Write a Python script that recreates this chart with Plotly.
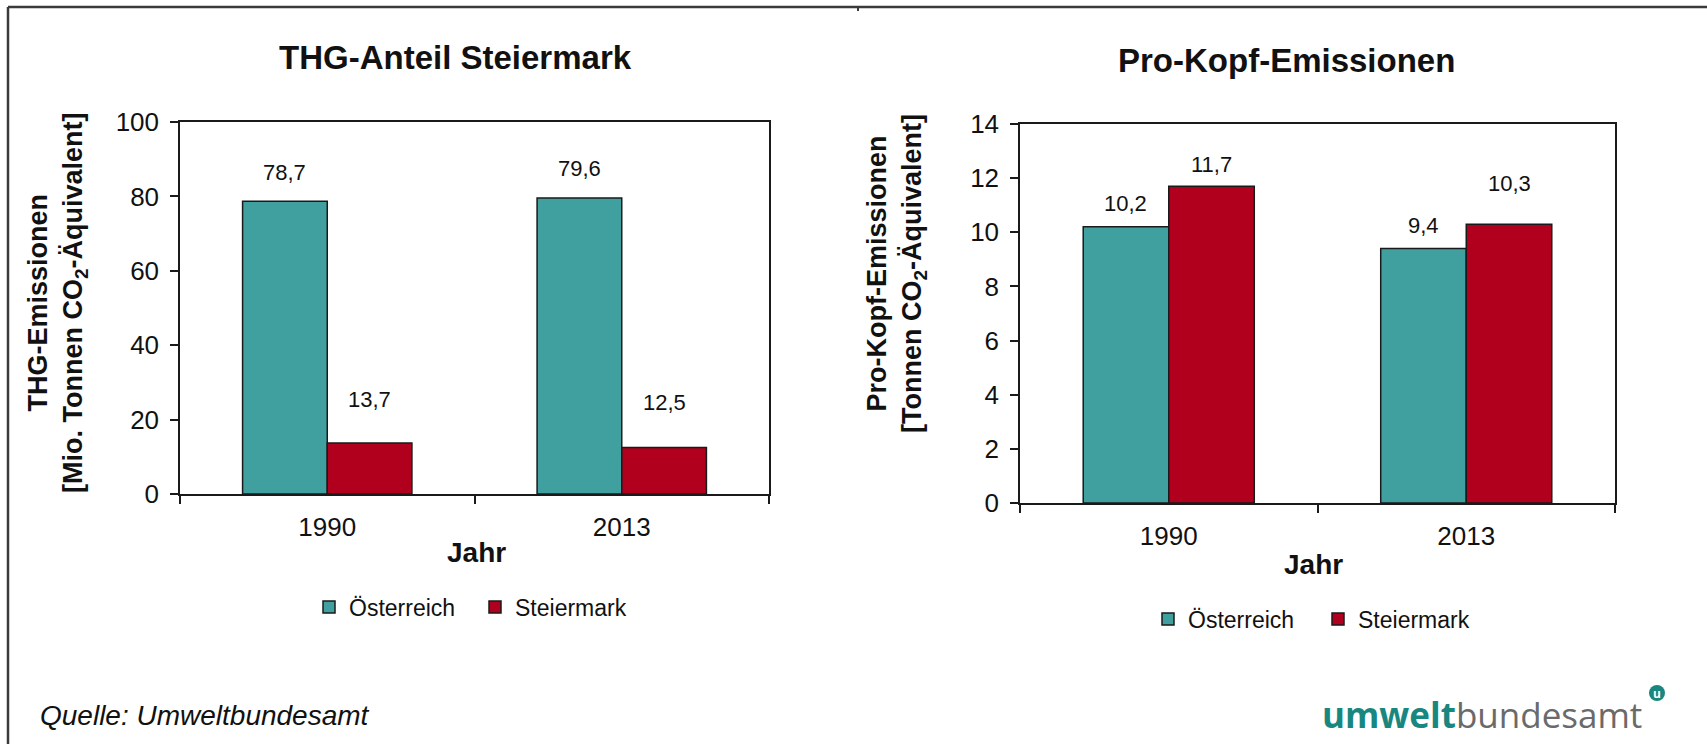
import plotly.graph_objects as go

# --- data ---------------------------------------------------------------
years = ["1990", "2013"]
thg_oesterreich = [78.7, 79.6]      # Mio. t CO2-Äquivalent
thg_steiermark = [13.7, 12.5]
kopf_oesterreich = [10.2, 9.4]      # t CO2-Äquivalent pro Kopf
kopf_steiermark = [11.7, 10.3]
series_names = ["Österreich", "Steiermark"]

# --- styling ------------------------------------------------------------
W, H = 1707, 744
TEAL = "#40A0A0"
RED = "#B0001E"
INK = "#111111"
FONT = "Liberation Sans, Arial, sans-serif"


def xp(px):
    return px / W


def yp(py):
    return 1 - py / H


def fmt(v):
    return f"{v:.1f}".replace(".", ",")


# plot areas in pixels: (left, right, top, bottom)
LEFT_BOX = (180, 769, 122, 494)
RIGHT_BOX = (1020, 1615, 124, 503)
BARGAP = 0.425

# vertical lift (px) of the value labels above their bars, per panel / series / year
LABEL_LIFT = [
    [[29, 29], [44, 45]],
    [[23, 23], [22, 41]],
]

positions = list(range(len(years)))
boundaries = [p - 0.5 for p in positions] + [positions[-1] + 0.5]
half_bar = (1 - BARGAP) / 4          # centre offset of each bar within its group

fig = go.Figure()

panels = [
    ("x", "y", "legend", thg_oesterreich, thg_steiermark),
    ("x2", "y2", "legend2", kopf_oesterreich, kopf_steiermark),
]
for xa, ya, leg, a_vals, b_vals in panels:
    for name, vals, color in zip(series_names, (a_vals, b_vals), (TEAL, RED)):
        fig.add_trace(go.Bar(
            x=positions, y=vals, name=name, xaxis=xa, yaxis=ya, legend=leg,
            marker=dict(color=color, line=dict(color="#1a1a1a", width=1.5)),
            customdata=years, hovertemplate="%{customdata}: %{y}<extra>" + name + "</extra>",
        ))

axis_line = dict(
    showline=True, linecolor="#1a1a1a", linewidth=1.5, mirror=True,
    showgrid=False, zeroline=False, automargin=False,
    tickfont=dict(family=FONT, size=26, color=INK),
)

x_common = dict(
    axis_line, range=[boundaries[0], boundaries[-1]],
    tickmode="array", tickvals=positions, ticktext=years,
    ticks="outside", ticklen=8, tickcolor="rgba(0,0,0,0)", ticklabelstandoff=1,
    minor=dict(tickmode="array", tickvals=boundaries, ticks="outside",
               ticklen=8, tickwidth=1.5, tickcolor="#1a1a1a", showgrid=False),
)

y_common = dict(
    axis_line, ticks="outside", ticklen=8, tickwidth=1.5, tickcolor="#1a1a1a",
    ticklabelstandoff=6,
)

legend_common = dict(
    orientation="h", xanchor="left", yanchor="middle",
    font=dict(family=FONT, size=23, color=INK), bgcolor="rgba(0,0,0,0)",
    itemclick=False, itemdoubleclick=False,
)

fig.update_layout(
    template="none",
    width=W, height=H,
    margin=dict(l=0, r=0, t=0, b=0, pad=0, autoexpand=False),
    paper_bgcolor="white", plot_bgcolor="white",
    barmode="group", bargap=BARGAP, bargroupgap=0,
    font=dict(family=FONT, color=INK),
    xaxis=dict(x_common, domain=[xp(LEFT_BOX[0]), xp(LEFT_BOX[1])], anchor="y"),
    yaxis=dict(y_common, range=[0, 100], dtick=20,
               domain=[yp(LEFT_BOX[3]), yp(LEFT_BOX[2])], anchor="x"),
    xaxis2=dict(x_common, domain=[xp(RIGHT_BOX[0]), xp(RIGHT_BOX[1])], anchor="y2"),
    yaxis2=dict(y_common, range=[0, 14], dtick=2,
                domain=[yp(RIGHT_BOX[3]), yp(RIGHT_BOX[2])], anchor="x2"),
    legend=dict(legend_common, x=xp(309), y=yp(607), entrywidth=121),
    legend2=dict(legend_common, x=xp(1148), y=yp(619), entrywidth=125),
    showlegend=True,
)

annotations = []

# value labels above each bar
for (xa, ya, _, a_vals, b_vals), lifts in zip(panels, LABEL_LIFT):
    for vals, sign, lift in zip((a_vals, b_vals), (-1, 1), lifts):
        for p, v, dy in zip(positions, vals, lift):
            annotations.append(dict(
                x=p + sign * half_bar, y=v, xref=xa, yref=ya, text=fmt(v), showarrow=False,
                yshift=dy, yanchor="middle", xanchor="center",
                font=dict(family=FONT, size=22, color=INK),
            ))

ytitle_font = dict(family=FONT, size=27, color=INK, weight="bold")

# panel titles, axis captions, source and wordmark
annotations += [
    dict(x=xp(455), y=yp(57), xref="paper", yref="paper", text="THG-Anteil Steiermark",
         showarrow=False, xanchor="center", yanchor="middle",
         font=dict(family=FONT, size=33, color=INK, weight="bold")),
    dict(x=xp(1286), y=yp(60), xref="paper", yref="paper", text="Pro-Kopf-Emissionen",
         showarrow=False, xanchor="center", yanchor="middle",
         font=dict(family=FONT, size=33, color=INK, weight="bold")),
    dict(x=xp(57), y=yp(303), xref="paper", yref="paper",
         text="THG-Emissionen<br>[Mio. Tonnen CO<sub>2</sub>-Äquivalent]",
         textangle=-90, showarrow=False, xanchor="center", yanchor="middle",
         font=ytitle_font),
    dict(x=xp(896), y=yp(274), xref="paper", yref="paper",
         text="Pro-Kopf-Emissionen<br>[Tonnen CO<sub>2</sub>-Äquivalent]",
         textangle=-90, showarrow=False, xanchor="center", yanchor="middle",
         font=ytitle_font),
    dict(x=xp(476), y=yp(552), xref="paper", yref="paper", text="Jahr",
         showarrow=False, xanchor="center", yanchor="middle",
         font=dict(family=FONT, size=28, color=INK, weight="bold")),
    dict(x=xp(1313), y=yp(564), xref="paper", yref="paper", text="Jahr",
         showarrow=False, xanchor="center", yanchor="middle",
         font=dict(family=FONT, size=28, color=INK, weight="bold")),
    dict(x=xp(38), y=yp(715), xref="paper", yref="paper", text="<i>Quelle: Umweltbundesamt</i>",
         showarrow=False, xanchor="left", yanchor="middle",
         font=dict(family=FONT, size=28, color=INK)),
    dict(x=xp(1644), y=yp(714), xref="paper", yref="paper",
         text="<b>umwelt</b><span style='color:#6a6a6a'>bundesamt</span>",
         showarrow=False, xanchor="right", yanchor="middle",
         font=dict(family="Open Sans, sans-serif", size=35, color="#17877f")),
    dict(x=xp(1657), y=yp(693), xref="paper", yref="paper", text="<b>u</b>",
         showarrow=False, xanchor="center", yanchor="middle",
         font=dict(family="Open Sans, sans-serif", size=12, color="white")),
]
fig.update_layout(annotations=annotations)

# outer frame (left and top edges) and wordmark badge
frame = dict(color="#3a3a3a", width=2.5)
fig.update_layout(shapes=[
    dict(type="line", xref="paper", yref="paper", x0=xp(8), x1=xp(8), y0=0, y1=yp(7), line=frame),
    dict(type="line", xref="paper", yref="paper", x0=xp(8), x1=1, y0=yp(7), y1=yp(7), line=frame),
    dict(type="line", xref="paper", yref="paper", x0=xp(858), x1=xp(858), y0=yp(7), y1=yp(11),
         line=dict(color="#3a3a3a", width=2)),
    dict(type="circle", xref="paper", yref="paper",
         x0=xp(1649), x1=xp(1665), y0=yp(701), y1=yp(685),
         fillcolor="#17877f", line=dict(width=0)),
])

fig.write_html("out.html")
